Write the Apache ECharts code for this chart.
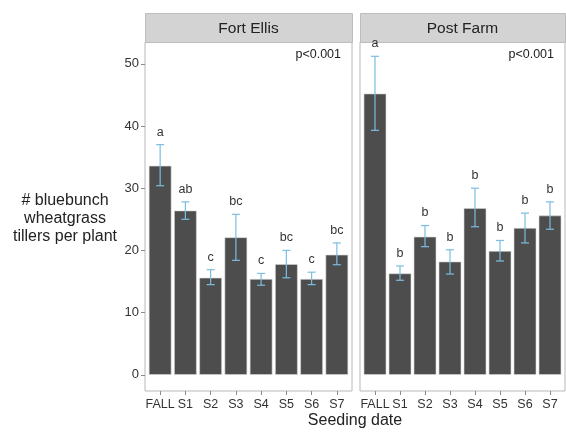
<!DOCTYPE html>
<html>
<head>
<meta charset="utf-8">
<script src="https://cdn.jsdelivr.net/npm/echarts@6/dist/echarts.min.js"></script>
<style>
  html, body { margin: 0; padding: 0; background: #fff; }
  #chart { width: 566px; height: 432px; }
</style>
</head>
<body>
<div id="chart"></div>
<script>
// Seeding dates (shared by both sites)
const categories = ['FALL', 'S1', 'S2', 'S3', 'S4', 'S5', 'S6', 'S7'];

// Fort Ellis: mean tillers per plant, error bar limits, significance letters
const fortEllisMean = [33.6, 26.4, 15.6, 22.1, 15.4, 17.8, 15.4, 19.3];
const fortEllisUpper = [37.0, 27.8, 16.9, 25.8, 16.3, 20.0, 16.5, 21.2];
const fortEllisLower = [30.4, 25.0, 14.5, 18.4, 14.4, 15.6, 14.5, 17.7];
const fortEllisLetters = ['a', 'ab', 'c', 'bc', 'c', 'bc', 'c', 'bc'];

// Post Farm
const postFarmMean = [45.2, 16.3, 22.2, 18.2, 26.8, 19.9, 23.6, 25.6];
const postFarmUpper = [51.2, 17.5, 24.0, 20.1, 30.0, 21.6, 26.0, 27.8];
const postFarmLower = [39.3, 15.2, 20.6, 16.2, 23.8, 18.3, 21.2, 23.4];
const postFarmLetters = ['a', 'b', 'b', 'b', 'b', 'b', 'b', 'b'];

const yTicks = [0, 10, 20, 30, 40, 50];
const panelTitles = ['Fort Ellis', 'Post Farm'];
const pValueText = 'p<0.001';

const FONT = '"Liberation Sans", Arial, Helvetica, sans-serif';
const BAR_COLOR = '#4d4d4d';
const ERR_COLOR = '#7cbde0';
const TEXT_COLOR = '#333333';

// Panel layout (pixels)
const panels = [
  { left: 145, width: 207 },
  { left: 360, width: 205 }
];
const panelTop = 42, panelHeight = 349, stripTop = 13, stripHeight = 29;

const catIdx = categories.map((c, i) => i);

function xAxisFor(gridIndex) {
  return {
    type: 'value', gridIndex, min: -0.6, max: 7.6, position: 'bottom',
    axisLine: { show: false, onZero: false },
    splitLine: { show: false },
    axisTick: { show: true, length: 4, customValues: catIdx, lineStyle: { color: '#8a8a8a' } },
    axisLabel: {
      customValues: catIdx, margin: 7,
      formatter: v => categories[Math.round(v)],
      color: TEXT_COLOR, fontSize: 12.5, fontFamily: FONT
    }
  };
}

function yAxisFor(gridIndex, showLabels) {
  return {
    type: 'value', gridIndex, min: -2.6, max: 53.5, position: 'left',
    axisLine: { show: false, onZero: false },
    splitLine: { show: false },
    axisTick: { show: showLabels, length: 4, customValues: yTicks, lineStyle: { color: '#8a8a8a' } },
    axisLabel: {
      show: showLabels, customValues: yTicks, margin: 6,
      color: TEXT_COLOR, fontSize: 13, fontFamily: FONT
    }
  };
}

function barSeries(idx, means) {
  return {
    type: 'bar', xAxisIndex: idx, yAxisIndex: idx,
    barWidth: 22.6,
    itemStyle: { color: BAR_COLOR, borderColor: '#d8d8d8', borderWidth: 0.6 },
    data: means.map((v, i) => [i, v]),
    z: 2
  };
}

function errorSeries(idx, upper, lower, letters) {
  return {
    type: 'custom', xAxisIndex: idx, yAxisIndex: idx,
    encode: { x: 0, y: [1, 2] },
    data: upper.map((u, i) => [i, u, lower[i]]),
    z: 5,
    renderItem: function (params, api) {
      const x = api.value(0);
      const top = api.coord([x, api.value(1)]);
      const bot = api.coord([x, api.value(2)]);
      const cap = 4;
      const style = { stroke: ERR_COLOR, lineWidth: 1.2 };
      return {
        type: 'group',
        children: [
          { type: 'line', shape: { x1: top[0], y1: top[1], x2: bot[0], y2: bot[1] }, style },
          { type: 'line', shape: { x1: top[0] - cap, y1: top[1], x2: top[0] + cap, y2: top[1] }, style },
          { type: 'line', shape: { x1: bot[0] - cap, y1: bot[1], x2: bot[0] + cap, y2: bot[1] }, style },
          {
            type: 'text',
            style: {
              x: top[0], y: top[1] - 6, text: letters[params.dataIndex],
              align: 'center', verticalAlign: 'bottom',
              fill: TEXT_COLOR, fontSize: 12.5, fontFamily: FONT
            }
          }
        ]
      };
    }
  };
}

// Facet strips, p-values and axis titles
const graphics = [];
panels.forEach((p, i) => {
  graphics.push({
    type: 'rect', left: p.left, top: stripTop,
    shape: { width: p.width, height: stripHeight },
    style: { fill: '#d3d3d3', stroke: '#bdbdbd', lineWidth: 1 }
  });
  graphics.push({
    type: 'text', x: p.left + p.width / 2, y: stripTop + stripHeight / 2 + 1,
    style: { text: panelTitles[i], align: 'center', verticalAlign: 'middle',
      fill: '#222', fontSize: 15.5, fontFamily: FONT }
  });
  graphics.push({
    type: 'text', x: p.left + p.width - 11, y: 55,
    style: { text: pValueText, align: 'right', verticalAlign: 'middle',
      fill: '#222', fontSize: 12.5, fontFamily: FONT }
  });
});
graphics.push({
  type: 'text', x: 65, y: 219,
  style: { text: '# bluebunch\nwheatgrass\ntillers per plant', align: 'center',
    verticalAlign: 'middle', lineHeight: 18, fill: '#222', fontSize: 16, fontFamily: FONT }
});
graphics.push({
  type: 'text', x: 355, y: 421,
  style: { text: 'Seeding date', align: 'center', verticalAlign: 'middle',
    fill: '#222', fontSize: 16, fontFamily: FONT }
});

const chart = echarts.init(document.getElementById('chart'), null, { renderer: 'canvas' });
chart.setOption({
  animation: false,
  backgroundColor: '#ffffff',
  grid: panels.map(p => ({
    left: p.left, top: panelTop, width: p.width, height: panelHeight,
    show: true, backgroundColor: '#ffffff', borderColor: '#b8b8b8', borderWidth: 1
  })),
  xAxis: [xAxisFor(0), xAxisFor(1)],
  yAxis: [yAxisFor(0, true), yAxisFor(1, false)],
  series: [
    barSeries(0, fortEllisMean),
    errorSeries(0, fortEllisUpper, fortEllisLower, fortEllisLetters),
    barSeries(1, postFarmMean),
    errorSeries(1, postFarmUpper, postFarmLower, postFarmLetters)
  ],
  graphic: graphics
});
</script>
</body>
</html>
